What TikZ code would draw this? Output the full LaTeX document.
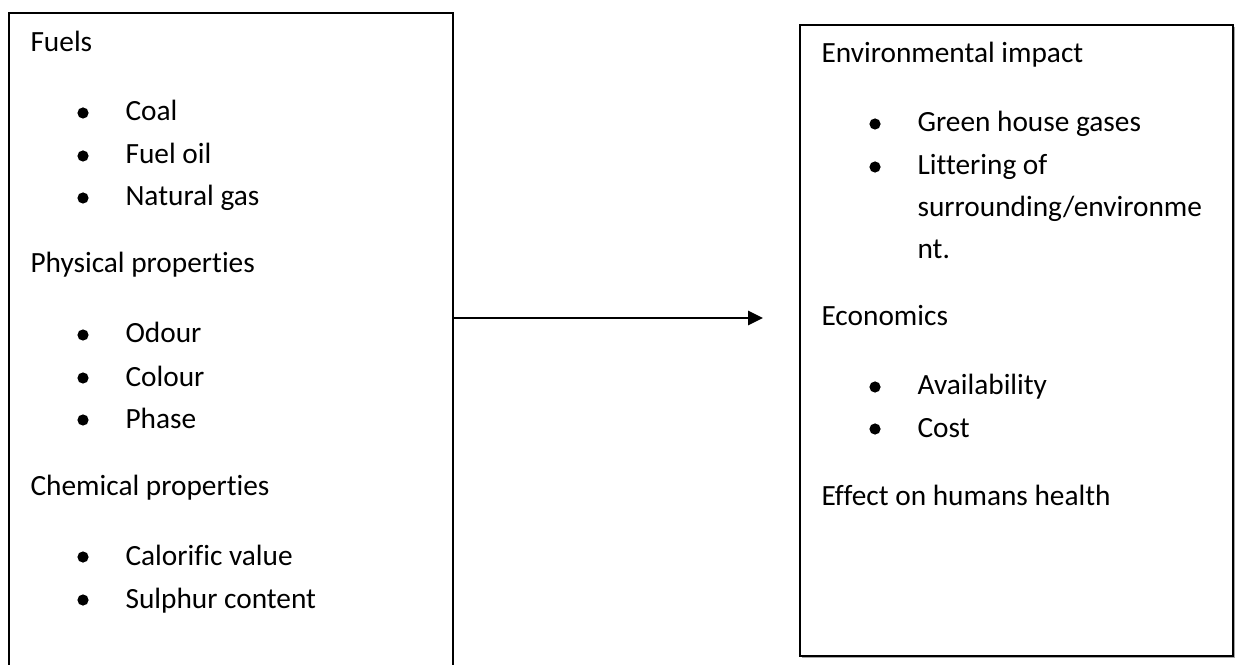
\documentclass[tikz,border=0pt]{standalone}
\usepackage{fontspec}
\setmainfont{Carlito}[Ligatures=NoCommon]
\usepackage{tikz}
\usetikzlibrary{arrows.meta}
\tikzset{%
    txt/.style={inner sep=0pt,anchor=base west,font=\fontsize{11}{13}\selectfont},
    box/.style={draw,line width=0.8pt,inner sep=0pt,anchor=north west},
    arr/.style={line width=1pt,-{Triangle[length=5.6pt,width=5.3pt]}}
}

\begin{document}
\begin{tikzpicture}[x=0.375pt,y=-0.375pt]
        \useasboundingbox (0,0) rectangle (1235,665);
        \clip (0,0) rectangle (1235,665);
        % boxes
        \node[box,minimum width=166.5pt,minimum height=270pt] (fuelsbox) at (8,12){};
        \draw[gray!70,line width=0.8pt] (1234,27) |- (802,657);
        \node[box,minimum width=162.4pt,minimum height=236.6pt] (impactbox) at (799,24){};
        % left text
        \node[txt] (fuels) at (30,52){Fuels};
        \node[txt] (coal) at (125,121){Coal};
        \node[txt] (fueloil) at (125,164){Fuel oil};
        \node[txt] (natgas) at (125,206){Natural gas};
        \node[txt] (physical) at (30,273){Physical properties};
        \node[txt] (odour) at (125,343){Odour};
        \node[txt] (colour) at (125,386){Colour};
        \node[txt] (phase) at (125,428){Phase};
        \node[txt] (chemical) at (30,495){Chemical properties};
        \node[txt] (calorific) at (125,565){Calorific value};
        \node[txt] (sulphur) at (125,608){Sulphur content};
        % right text
        \node[txt] (envimpact) at (821,63){Environmental impact};
        \node[txt] (greenhouse) at (917,132){Green house gases};
        \node[txt] (littering) at (917,175){Littering of};
        \node[txt] (surround) at (917,217){surrounding/environme};
        \node[txt] (surroundend) at (917,259){nt.};
        \node[txt] (economics) at (821,326){Economics};
        \node[txt] (avail) at (917,395){Availability};
        \node[txt] (cost) at (917,437){Cost};
        \node[txt] (health) at (821,505){Effect on humans health};
        \foreach \n in {coal,fueloil,natgas,odour,colour,phase,calorific,sulphur,greenhouse,littering,avail,cost}
            \fill (\n.base west) ++(-42,-8) circle[radius=2.1pt];
        % connector
        \coordinate (arrowend) at (763,318);
        \draw[arr] (arrowend -| fuelsbox.east) -- (arrowend);
    \end{tikzpicture}
\end{document}
